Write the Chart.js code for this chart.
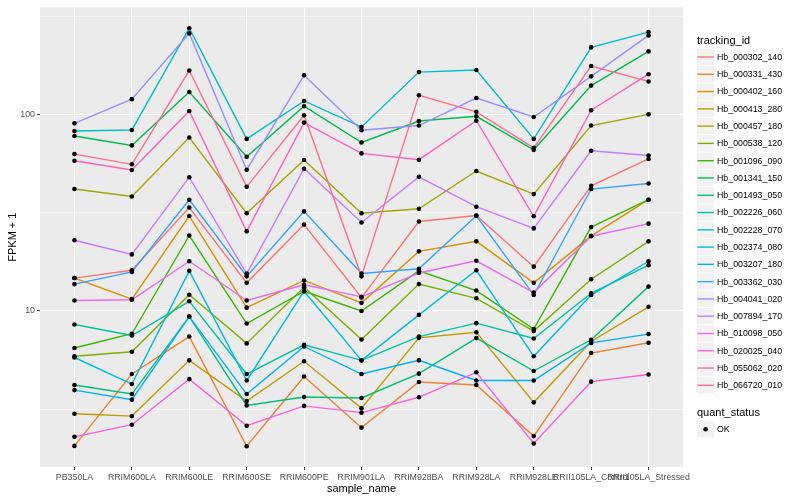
<!DOCTYPE html>
<html>
<head>
<meta charset="utf-8">
<script src="https://cdn.jsdelivr.net/npm/chart.js@4.4.1/dist/chart.umd.min.js"></script>
<style>
  html, body { margin: 0; padding: 0; background: #ffffff; }
  #wrap { width: 800px; height: 500px; }
</style>
</head>
<body>
<div id="wrap"><canvas id="c" width="800" height="500"></canvas></div>
<script>
// ---------------- DATA ----------------
const categories = ["PB350LA", "RRIM600LA", "RRIM600LE", "RRIM600SE", "RRIM600PE", "RRIM901LA",
  "RRIM928BA", "RRIM928LA", "RRIM928LE", "RRII105LA_Control", "RRII105LA_Stressed"];

const trackingIds = ["Hb_000302_140", "Hb_000331_430", "Hb_000402_160", "Hb_000413_280", "Hb_000457_180",
  "Hb_000538_120", "Hb_001096_090", "Hb_001341_150", "Hb_001493_050", "Hb_002226_060",
  "Hb_002228_070", "Hb_002374_080", "Hb_003207_180", "Hb_003362_030", "Hb_004041_020",
  "Hb_007894_170", "Hb_010098_050", "Hb_020025_040", "Hb_055062_020", "Hb_066720_010"];

// FPKM + 1 values, one array per tracking_id, in category order
const hb_000302_140 = [14.7, 16.1, 33.6, 13.9, 27.5, 11.7, 28.5, 30.6, 16.8, 43.3, 59.3];
const hb_000331_430 = [2.06, 4.78, 7.41, 2.05, 4.64, 2.55, 4.35, 4.2, 2.31, 6.11, 6.89];
const hb_000402_160 = [14.7, 11.5, 30.4, 10.4, 14.3, 11.0, 20.1, 22.6, 13.9, 24.1, 36.8];
const hb_000413_280 = [3.0, 2.92, 5.61, 3.48, 5.55, 3.2, 7.3, 7.8, 3.43, 7.0, 10.5];
const hb_000457_180 = [41.7, 38.2, 76.2, 31.4, 58.6, 31.4, 33.1, 51.5, 39.3, 87.7, 100];
const hb_000538_120 = [5.88, 6.2, 12.1, 6.84, 13.2, 7.16, 13.7, 11.6, 7.9, 14.5, 22.6];
const hb_001096_090 = [6.48, 7.66, 24.2, 8.63, 12.6, 10.0, 16.0, 12.7, 8.1, 26.7, 36.8];
const hb_001341_150 = [77.6, 69.5, 130, 60.9, 110, 71.9, 92.5, 97.7, 66, 140, 209];
const hb_001493_050 = [4.2, 3.78, 9.36, 3.31, 3.65, 3.61, 4.8, 7.28, 4.95, 7.14, 13.3];
const hb_002226_060 = [8.53, 7.5, 11.2, 4.78, 6.73, 5.61, 7.41, 8.67, 7.25, 12.3, 17.1];
const hb_002228_070 = [82.3, 83.3, 274, 75, 117, 86.3, 164, 168, 75, 219, 262];
const hb_002374_080 = [5.8, 4.25, 16.0, 4.43, 12.6, 5.61, 9.55, 16.1, 5.88, 12.05, 17.9];
const hb_003207_180 = [3.96, 3.54, 9.36, 3.78, 6.6, 4.78, 5.61, 4.43, 4.43, 6.88, 7.63];
const hb_003362_030 = [13.7, 15.8, 36.8, 15.0, 32.1, 15.5, 16.4, 30.5, 12.05, 41.7, 44.5];
const hb_004041_020 = [90, 119.5, 258, 52.3, 158, 83, 87.7, 121, 96.9, 156, 252];
const hb_007894_170 = [22.9, 19.4, 47.9, 15.5, 52.9, 28.2, 48.1, 33.9, 26.3, 65.3, 61.8];
const hb_010098_050 = [11.3, 11.4, 17.9, 11.3, 13.6, 11.8, 15.6, 18.0, 12.4, 24.0, 27.8];
const hb_020025_040 = [2.29, 2.64, 4.5, 2.61, 3.29, 3.04, 3.64, 4.88, 2.12, 4.37, 4.75];
const hb_055062_020 = [58.1, 52.1, 104, 25.4, 90.8, 63.3, 58.8, 92.9, 30.3, 105, 160];
const hb_066720_010 = [62.8, 55.7, 167, 42.8, 99, 15.0, 125, 103, 67.6, 176, 147];

const seriesValues = [hb_000302_140, hb_000331_430, hb_000402_160, hb_000413_280, hb_000457_180,
  hb_000538_120, hb_001096_090, hb_001341_150, hb_001493_050, hb_002226_060,
  hb_002228_070, hb_002374_080, hb_003207_180, hb_003362_030, hb_004041_020,
  hb_007894_170, hb_010098_050, hb_020025_040, hb_055062_020, hb_066720_010];

const quantStatus = ["OK"];
const yTickValues = [3.1623, 10, 31.623, 100, 316.23];
const yTickLabels = ["", "10", "", "100", ""];

// ---------------- STYLE ----------------
const seriesColors = ["#F8766D", "#EA8331", "#D89000", "#C09B00", "#A3A500", "#7CAE00", "#39B600",
  "#00BB4E", "#00BF7D", "#00C1A3", "#00BFC4", "#00BAE0", "#00B0F6", "#35A2FF", "#9590FF",
  "#C77CFF", "#E76BF3", "#FA62DB", "#FF62BC", "#FF6C91"];
const FONT = '"Liberation Sans", Arial, Helvetica, sans-serif';

const N = trackingIds.length;
const datasets = seriesValues.map((vals, i) => ({
  label: trackingIds[i],
  data: vals.map((v, k) => ({ x: k, y: v })),
  borderColor: seriesColors[i],
  backgroundColor: seriesColors[i],
  borderWidth: 1.4,
  pointRadius: 0,
  pointHoverRadius: 0,
  tension: 0,
  fill: false,
  order: N - 1 - i
}));

const ggPlugin = {
  id: 'gg',
  beforeDraw(chart) {
    const { ctx, chartArea: a } = chart;
    ctx.save();
    ctx.fillStyle = '#FFFFFF';
    ctx.fillRect(0, 0, chart.width, chart.height);
    ctx.fillStyle = '#EBEBEB';
    ctx.fillRect(a.left, a.top, a.right - a.left, a.bottom - a.top);
    ctx.restore();
  },
  afterDatasetsDraw(chart) {
    const { ctx } = chart;
    ctx.save();
    ctx.fillStyle = '#000000';
    chart.getSortedVisibleDatasetMetas().forEach(meta => {
      meta.data.forEach(el => {
        ctx.beginPath();
        ctx.arc(el.x, el.y, 2.3, 0, Math.PI * 2);
        ctx.fill();
      });
    });
    ctx.restore();
  },
  afterDraw(chart) {
    const { ctx, chartArea: a } = chart;
    ctx.save();
    // axis titles
    ctx.fillStyle = '#000000';
    ctx.font = '11px ' + FONT;
    ctx.textAlign = 'center';
    ctx.textBaseline = 'middle';
    ctx.fillText('sample_name', (a.left + a.right) / 2, 489);
    ctx.save();
    ctx.translate(13, (a.top + a.bottom) / 2);
    ctx.rotate(-Math.PI / 2);
    ctx.fillText('FPKM + 1', 0, 0);
    ctx.restore();

    // legend: tracking_id
    const lx = 697, keyW = 17.28, rowH = 17.28;
    ctx.textAlign = 'left';
    ctx.font = '11px ' + FONT;
    ctx.fillText('tracking_id', lx, 40.5);
    ctx.font = '8.8px ' + FONT;
    const firstCenter = 57;
    for (let i = 0; i < N; i++) {
      const cy = firstCenter + i * rowH;
      ctx.fillStyle = '#F2F2F2';
      ctx.fillRect(lx, cy - rowH / 2 + 0.5, keyW, rowH - 1);
      ctx.strokeStyle = seriesColors[i];
      ctx.lineWidth = 1.4;
      ctx.beginPath();
      ctx.moveTo(lx + 0.5, cy);
      ctx.lineTo(lx + keyW - 0.5, cy);
      ctx.stroke();
      ctx.fillStyle = '#000000';
      ctx.fillText(trackingIds[i], 717, cy + 0.5);
    }
    // legend: quant_status
    ctx.font = '11px ' + FONT;
    ctx.fillText('quant_status', lx, 412.7);
    ctx.font = '8.8px ' + FONT;
    quantStatus.forEach((q, k) => {
      const cy = 429.3 + k * rowH;
      ctx.fillStyle = '#F2F2F2';
      ctx.fillRect(lx, cy - rowH / 2 + 0.5, keyW, rowH - 1);
      ctx.fillStyle = '#000000';
      ctx.beginPath();
      ctx.arc(lx + keyW / 2, cy, 2.3, 0, Math.PI * 2);
      ctx.fill();
      ctx.fillText(q, 717, cy + 0.5);
    });
    ctx.restore();
  }
};

new Chart(document.getElementById('c'), {
  type: 'line',
  data: { datasets },
  plugins: [ggPlugin],
  options: {
    responsive: false,
    animation: false,
    devicePixelRatio: 1,
    layout: { padding: { left: 0, right: 117, top: 5, bottom: 0 } },
    plugins: { legend: { display: false }, tooltip: { enabled: false } },
    events: [],
    scales: {
      x: {
        type: 'linear',
        min: -0.6,
        max: categories.length - 1 + 0.6,
        afterBuildTicks: (axis) => { axis.ticks = categories.map((c, k) => ({ value: k })); },
        afterFit: (axis) => { axis.height = 33; },
        ticks: {
          autoSkip: false,
          maxRotation: 0,
          minRotation: 0,
          padding: 2,
          color: '#4D4D4D',
          font: { family: FONT, size: 8.8 },
          callback: (v) => categories[v] !== undefined ? categories[v] : ''
        },
        grid: {
          color: '#FFFFFF',
          lineWidth: 1.1,
          drawTicks: true,
          tickLength: 3,
          tickColor: '#333333',
          tickWidth: 1
        },
        border: { display: false }
      },
      y: {
        type: 'logarithmic',
        min: Math.pow(10, 0.2065),
        max: Math.pow(10, 2.5445),
        afterBuildTicks: (axis) => { axis.ticks = yTickValues.map(v => ({ value: v })); },
        afterFit: (axis) => { axis.width = 40; },
        ticks: {
          autoSkip: false,
          padding: 2,
          color: '#4D4D4D',
          font: { family: FONT, size: 8.8 },
          callback: (v, idx) => yTickLabels[idx]
        },
        grid: {
          color: '#FFFFFF',
          lineWidth: (ctx) => (yTickLabels[ctx.index] ? 1.1 : 0.55),
          drawTicks: true,
          tickLength: 3,
          tickColor: (ctx) => (yTickLabels[ctx.index] ? '#333333' : 'rgba(0,0,0,0)'),
          tickWidth: 1
        },
        border: { display: false }
      }
    }
  }
});
</script>
</body>
</html>
